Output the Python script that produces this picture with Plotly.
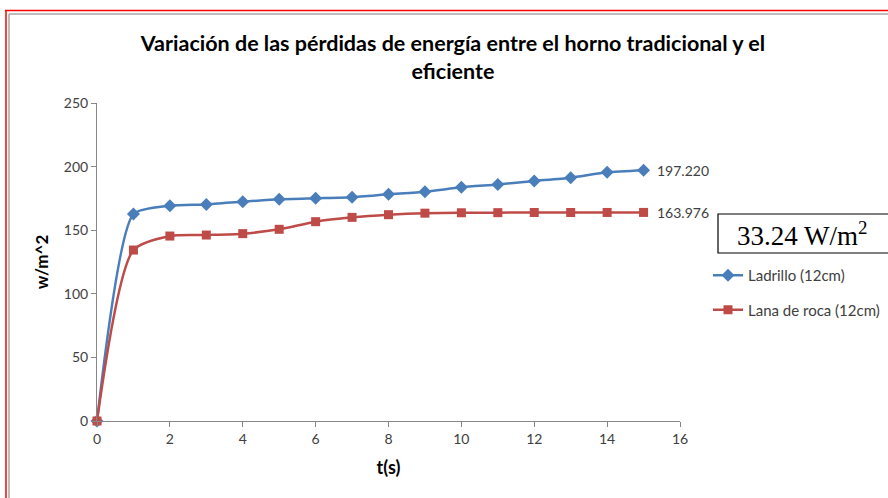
import plotly.graph_objects as go

t = list(range(0, 16))
ladrillo = [0, 162.7, 169.3, 170.3, 172.4, 174.3, 175.1, 175.9, 178.2, 180.3, 183.7, 186.0, 188.7, 191.3, 195.5, 197.22]
lana = [0, 134.4, 145.4, 146.2, 147.3, 150.7, 156.7, 160.1, 162.2, 163.4, 163.7, 163.8, 163.9, 163.9, 163.95, 163.976]
series_names = ["Ladrillo (12cm)", "Lana de roca (12cm)"]

title_text = "Variación de las pérdidas de energía entre el horno tradicional y el<br>eficiente"
diff_text = "33.24 W/m<sup>2</sup>"

W, H = 888, 498
L, R, T, B = 97, 680, 103, 421

def px(x):
    return (x - L) / (R - L)

def py(y):
    return (B - y) / (B - T)

fig = go.Figure()
fig.add_trace(go.Scatter(
    x=t, y=ladrillo, name=series_names[0], mode="lines+markers",
    line=dict(color="#4A7EBB", width=2.5, shape="spline", smoothing=0.6),
    marker=dict(symbol="diamond", size=10, color="#4A7EBB"),
    legendgroup="a", cliponaxis=False,
))
fig.add_trace(go.Scatter(
    x=t, y=lana, name=series_names[1], mode="lines+markers",
    line=dict(color="#BE4B48", width=2.5, shape="spline", smoothing=0.7),
    marker=dict(symbol="square", size=9, color="#BE4B48"),
    legendgroup="b", cliponaxis=False,
))

for series in (ladrillo, lana):
    fig.add_annotation(
        x=t[-1], y=series[-1], xref="x", yref="y", xanchor="left", yanchor="middle",
        xshift=11, text=f"{series[-1]:.3f}", showarrow=False,
        font=dict(family="Lato", size=14, color="#404040"),
    )

shapes = [
    dict(type="line", xref="paper", yref="paper", x0=px(5), x1=px(900), y0=py(10.5), y1=py(10.5),
         line=dict(color="#FF0000", width=1.5)),
    dict(type="line", xref="paper", yref="paper", x0=px(6), x1=px(6), y0=py(10), y1=py(510),
         line=dict(color="#FF0000", width=1.5)),
    dict(type="line", xref="paper", yref="paper", x0=px(9), x1=px(900), y0=py(14), y1=py(14),
         line=dict(color="#A6A6A6", width=1.5)),
    dict(type="line", xref="paper", yref="paper", x0=px(9), x1=px(9), y0=py(14), y1=py(510),
         line=dict(color="#A6A6A6", width=1.5)),
    dict(type="rect", xref="paper", yref="paper", x0=px(718), x1=px(900), y0=py(214), y1=py(253),
         line=dict(color="#000000", width=1.2), fillcolor="white"),
]

fig.update_layout(
    width=W, height=H,
    margin=dict(l=L, r=W - R, t=T, b=H - B, pad=0, autoexpand=False),
    paper_bgcolor="white", plot_bgcolor="white",
    font=dict(family="Lato", color="#404040"),
    title=dict(text=title_text, x=453 / W, xanchor="center", xref="container",
               y=1 - 51 / H, yanchor="middle", yref="container",
               font=dict(family="Lato", size=21.5, color="#000000", weight="bold")),
    xaxis=dict(range=[0, 16], dtick=2, tick0=0, showgrid=False, zeroline=False,
               showline=True, linecolor="#868686", linewidth=1,
               ticks="outside", ticklen=5, tickcolor="#868686",
               tickfont=dict(family="Lato", size=14, color="#404040"),
               title=dict(text="t(s)", standoff=15,
                          font=dict(family="Lato", size=18, color="#000000", weight="bold"))),
    yaxis=dict(range=[0, 250], dtick=50, tick0=0, showgrid=False, zeroline=False,
               showline=True, linecolor="#868686", linewidth=1,
               ticks="outside", ticklen=5, tickcolor="#868686",
               tickfont=dict(family="Lato", size=14, color="#404040"),
               title=dict(text="w/m^2", standoff=10,
                          font=dict(family="Lato", size=17, color="#000000", weight="bold"))),
    legend=dict(x=px(708), xanchor="left", y=py(259), yanchor="top",
                font=dict(family="Lato", size=15, color="#404040"),
                tracegroupgap=12, traceorder="grouped", bgcolor="rgba(0,0,0,0)",
                itemwidth=30),
    shapes=shapes,
    showlegend=True,
)

fig.add_annotation(
    xref="paper", yref="paper", x=px(735), y=py(234), xanchor="left", yanchor="middle",
    text=diff_text, showarrow=False, align="left",
    font=dict(family="Liberation Serif", size=27, color="#000000"),
)

fig.write_html("out.html", post_script="document.body.style.margin='0';",
               config={"displayModeBar": False})
